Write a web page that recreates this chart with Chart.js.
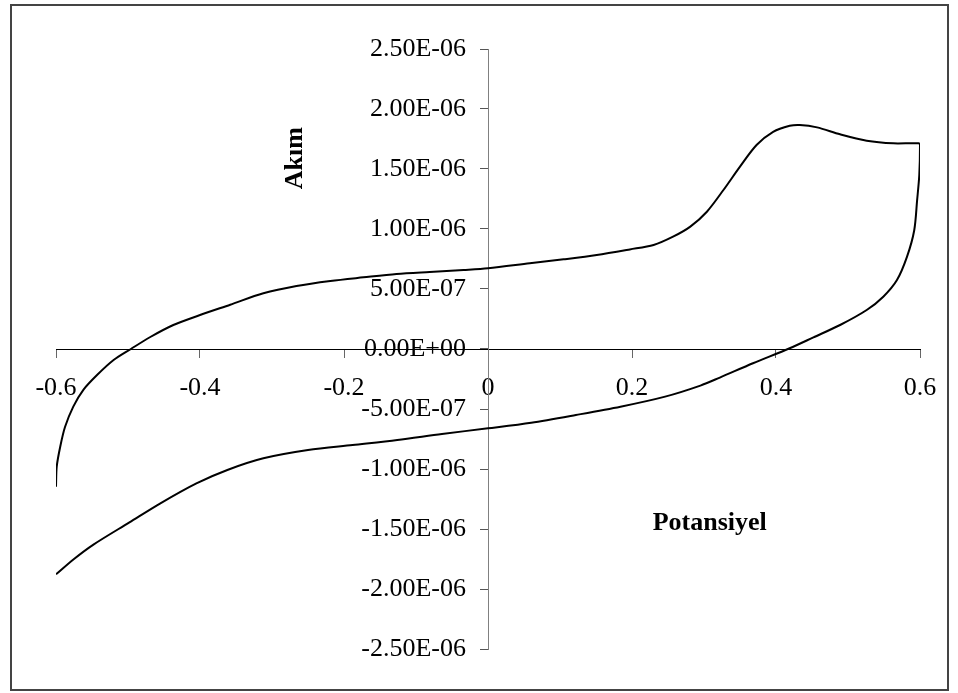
<!DOCTYPE html>
<html>
<head>
<meta charset="utf-8">
<script src="https://cdn.jsdelivr.net/npm/chart.js@4.4.1/dist/chart.umd.min.js"></script>
<style>
    html, body { margin: 0; padding: 0; background: #fff; }
    #kutu { position: relative; width: 958px; height: 693px; }
    #cerceve {
        position: absolute; left: 10px; top: 4px; width: 935px; height: 683px;
        border: 2px solid #444; pointer-events: none;
    }
</style>
</head>
<body>
<div id="kutu">
    <canvas id="chartCV" width="958" height="693"></canvas>
    <div id="cerceve"></div>
</div>
<script>
// Potansiyel (V) - ileri tarama sonra geri tarama
var potansiyel = [
    -0.600, -0.599, -0.594, -0.5875, -0.576, -0.562, -0.543, -0.520, -0.496, -0.469,
    -0.437, -0.400, -0.358, -0.312, -0.266, -0.219, -0.173, -0.127, -0.081,
    -0.034, 0.000, 0.058, 0.105, 0.151, 0.197, 0.230, 0.257, 0.281, 0.304,
    0.327, 0.350, 0.373, 0.396, 0.419, 0.433, 0.457, 0.489, 0.526, 0.563,
    0.598, 0.600, 0.599, 0.596, 0.592, 0.582, 0.568, 0.549, 0.526, 0.489,
    0.452, 0.419, 0.368, 0.322, 0.295, 0.246, 0.184, 0.122, 0.060, 0.000,
    -0.064, -0.126, -0.188, -0.250, -0.312, -0.362, -0.405, -0.455, -0.498, -0.548,
    -0.575, -0.600
];

// Akim (A)
var akim = [
    -1.147e-6, -0.98e-6, -0.81e-6, -0.65e-6, -0.48e-6, -0.34e-6, -0.217e-6, -0.092e-6, 0.0, 0.10e-6,
    0.20e-6, 0.283e-6, 0.369e-6, 0.464e-6, 0.525e-6, 0.567e-6, 0.597e-6, 0.625e-6, 0.642e-6,
    0.658e-6, 0.672e-6, 0.714e-6, 0.747e-6, 0.783e-6, 0.830e-6, 0.867e-6, 0.936e-6, 1.02e-6, 1.144e-6,
    1.325e-6, 1.52e-6, 1.70e-6, 1.81e-6, 1.86e-6, 1.867e-6, 1.847e-6, 1.789e-6, 1.736e-6, 1.714e-6,
    1.714e-6, 1.70e-6, 1.45e-6, 1.24e-6, 0.99e-6, 0.77e-6, 0.575e-6, 0.436e-6, 0.325e-6, 0.20e-6,
    0.097e-6, 0.006e-6, -0.119e-6, -0.238e-6, -0.305e-6, -0.397e-6, -0.481e-6, -0.55e-6, -0.614e-6, -0.661e-6,
    -0.708e-6, -0.758e-6, -0.800e-6, -0.842e-6, -0.911e-6, -1.008e-6, -1.12e-6, -1.286e-6, -1.445e-6, -1.63e-6,
    -1.75e-6, -1.878e-6
];

var xMin = -0.6, xMax = 0.6, xAdim = 0.2;
var yMin = -2.5e-6, yMax = 2.5e-6, yAdim = 0.5e-6;

var eksenBasliklari = {
    y: { text: 'Akım', x: -0.267, y: 1.59e-6, rotate: true },
    x: { text: 'Potansiyel', x: 0.308, y: -1.45e-6, rotate: false }
};

function bilimsel(v) {
    if (Math.abs(v) < 1e-15) return '0.00E+00';
    var parca = v.toExponential(2).split('e');
    var us = parseInt(parca[1], 10);
    var isaret = us < 0 ? '-' : '+';
    us = Math.abs(us);
    return parca[0] + 'E' + isaret + (us < 10 ? '0' + us : us);
}

document.addEventListener('DOMContentLoaded', function () {
    var ctx = document.getElementById('chartCV').getContext('2d');

    var noktalar = potansiyel.map(function (p, i) {
        return { x: p, y: akim[i] };
    });

    var baslikEklentisi = {
        id: 'eksenBasliklari',
        afterDraw: function (chart) {
            var c = chart.ctx;
            c.save();
            c.fillStyle = '#000';
            c.font = 'bold 26px "Liberation Serif", "Times New Roman", serif';
            c.textAlign = 'center';
            c.textBaseline = 'middle';
            Object.keys(eksenBasliklari).forEach(function (k) {
                var b = eksenBasliklari[k];
                var px = chart.scales.x.getPixelForValue(b.x);
                var py = chart.scales.y.getPixelForValue(b.y);
                c.save();
                c.translate(px, py);
                if (b.rotate) c.rotate(-Math.PI / 2);
                c.fillText(b.text, 0, 0);
                c.restore();
            });
            c.restore();
        }
    };

    new Chart(ctx, {
        type: 'scatter',
        data: {
            datasets: [{
                label: 'CV',
                data: noktalar,
                showLine: true,
                borderColor: '#000',
                borderWidth: 2,
                pointRadius: 0,
                tension: 0.3,
                fill: false
            }]
        },
        options: {
            responsive: false,
            animation: false,
            layout: { padding: { left: 56, right: 38, top: 49, bottom: 44 } },
            plugins: {
                legend: { display: false },
                tooltip: { enabled: false }
            },
            scales: {
                x: {
                    type: 'linear',
                    position: 'center',
                    min: xMin,
                    max: xMax,
                    border: { display: true, color: '#000', width: 1 },
                    grid: { display: true, drawOnChartArea: false, drawTicks: true, tickLength: 8, tickColor: '#666' },
                    ticks: {
                        stepSize: xAdim,
                        padding: 16,
                        maxRotation: 0,
                        color: '#000',
                        font: { family: "'Liberation Serif', 'Times New Roman', serif", size: 26 },
                        callback: function (v) { return String(parseFloat(v.toFixed(1))); }
                    }
                },
                y: {
                    type: 'linear',
                    position: 'center',
                    min: yMin,
                    max: yMax,
                    border: { display: true, color: '#808080', width: 1 },
                    grid: { display: true, drawOnChartArea: false, drawTicks: true, tickLength: 8, tickColor: '#555' },
                    ticks: {
                        stepSize: yAdim,
                        padding: 14,
                        color: '#000',
                        font: { family: "'Liberation Serif', 'Times New Roman', serif", size: 26 },
                        callback: function (v) { return bilimsel(v); }
                    }
                }
            }
        },
        plugins: [baslikEklentisi]
    });
});
</script>
</body>
</html>
